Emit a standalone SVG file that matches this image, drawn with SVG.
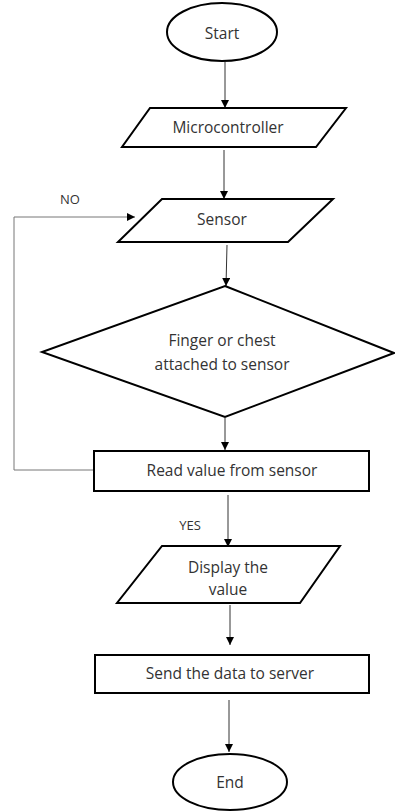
<svg xmlns="http://www.w3.org/2000/svg" width="395" height="811" viewBox="0 0 395 811">
<style>
.s{fill:#fff;stroke:#000;stroke-width:2}
.t{font-family:"Open Sans","Liberation Sans",sans-serif;font-size:15.5px;fill:#333;text-anchor:middle;dominant-baseline:central}
.l{font-size:13px}
.c{fill:none;stroke:#333;stroke-width:1}
.g{fill:none;stroke:#777;stroke-width:1}
</style>
<defs>
<marker id="a" viewBox="0 0 10 10" refX="10" refY="5" markerWidth="8" markerHeight="8" markerUnits="userSpaceOnUse" orient="auto">
<path d="M0,0 L10,5 L0,10 z" fill="#000"/>
</marker>
</defs>
<rect width="395" height="811" fill="#fff"/>
<g id="connectors">
<line class="c" x1="225" y1="62" x2="225" y2="108" marker-end="url(#a)"/>
<line class="c" x1="224" y1="150" x2="224" y2="199" marker-end="url(#a)"/>
<line class="c" x1="227" y1="245" x2="226" y2="286" marker-end="url(#a)"/>
<line class="c" x1="225" y1="418" x2="225" y2="450" marker-end="url(#a)"/>
<polyline class="g" points="94,470 14,470 14,217 135,217" marker-end="url(#a)"/>
<line class="c" x1="228" y1="495" x2="228" y2="547" marker-end="url(#a)"/>
<line class="c" x1="230" y1="605" x2="230" y2="645" marker-end="url(#a)"/>
<line class="c" x1="229" y1="700" x2="229" y2="752" marker-end="url(#a)"/>
<text class="t l" x="70" y="199">NO</text>
<text class="t l" x="190" y="525">YES</text>
</g>
<g id="start">
<ellipse class="s" cx="222" cy="32" rx="55" ry="29"/>
<text class="t" x="222" y="33">Start</text>
</g>
<g id="microcontroller">
<polygon class="s" points="150,108 346,108 316,147 122,147"/>
<text class="t" x="228" y="127">Microcontroller</text>
</g>
<g id="sensor">
<polygon class="s" points="162,199 333,199 288,242 118,242"/>
<text class="t" x="222" y="219">Sensor</text>
</g>
<g id="decision">
<polygon class="s" points="225,286 394,353 225,417 42,352"/>
<text class="t" x="222" y="340">Finger or chest</text>
<text class="t" x="222" y="364">attached to sensor</text>
</g>
<g id="read">
<rect class="s" x="94" y="451" width="275" height="40"/>
<text class="t" x="232" y="470">Read value from sensor</text>
</g>
<g id="display">
<polygon class="s" points="162,546 340,546 300,603 117,603"/>
<text class="t" x="228" y="567">Display the</text>
<text class="t" x="228" y="589">value</text>
</g>
<g id="send">
<rect class="s" x="95" y="655" width="274" height="38"/>
<text class="t" x="230" y="673">Send the data to server</text>
</g>
<g id="end">
<ellipse class="s" cx="230" cy="782" rx="57" ry="28"/>
<text class="t" x="230" y="782">End</text>
</g>
</svg>
